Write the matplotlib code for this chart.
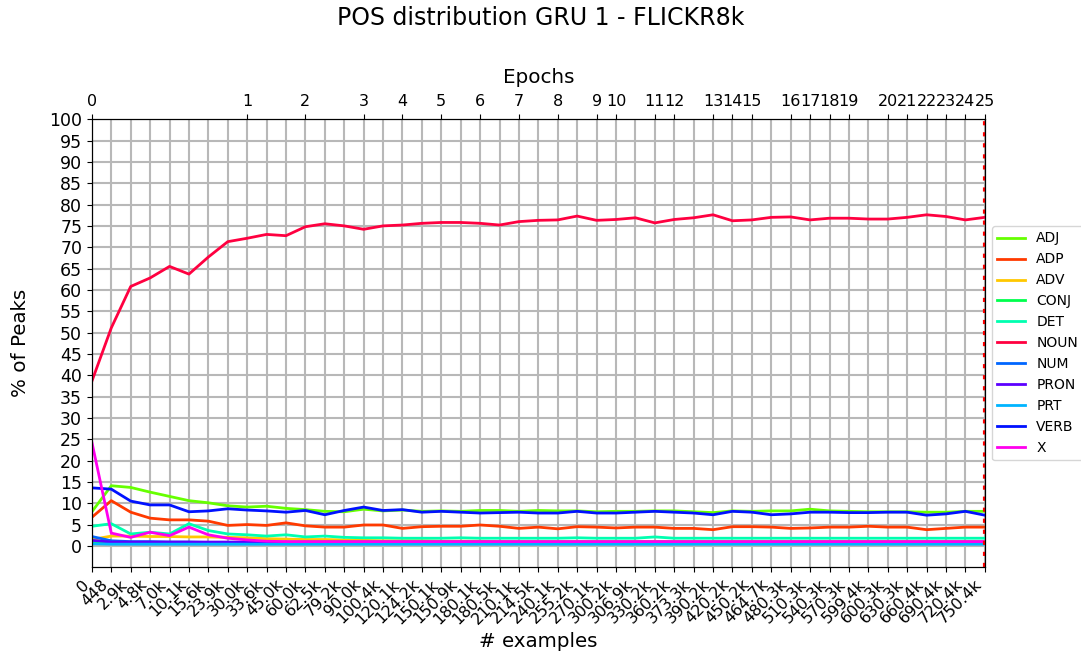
import matplotlib
matplotlib.use("Agg")
import matplotlib.pyplot as plt

examples = ["0", "448", "2.9k", "4.8k", "7.0k", "10.1k", "15.6k", "23.9k", "30.0k", "33.6k",
            "45.0k", "60.0k", "62.5k", "79.2k", "90.0k", "100.4k", "120.1k", "124.2k", "150.1k", "150.9k",
            "180.1k", "180.5k", "210.1k", "214.5k", "240.1k", "255.2k", "270.1k", "300.2k", "306.9k", "330.2k",
            "360.2k", "373.3k", "390.2k", "420.2k", "450.2k", "464.7k", "480.3k", "510.3k", "540.3k", "570.3k",
            "599.4k", "600.3k", "630.3k", "660.4k", "690.4k", "720.4k", "750.4k"]

# index in examples where each epoch ends
epoch_ticks = [0, 8, 11, 14, 16, 18, 20, 22, 24, 26, 27, 29, 30, 32, 33, 34, 36, 37, 38, 39,
               41, 42, 43, 44, 45, 46]
epoch_labels = [str(e) for e in range(26)]

ADJ = [8.0, 14.1, 13.7, 12.6, 11.6, 10.6, 10.1, 9.4, 9.1, 9.3,
       8.8, 8.5, 8.1, 8.0, 8.6, 8.2, 8.4, 8.1, 8.2, 8.1,
       8.3, 8.3, 8.1, 8.3, 8.2, 8.2, 8.0, 8.1, 8.1, 8.2,
       8.2, 8.0, 7.8, 8.2, 8.1, 8.2, 8.2, 8.6, 8.2, 8.1,
       8.0, 8.0, 8.0, 7.9, 7.9, 8.1, 8.1]
ADP = [6.7, 10.6, 7.9, 6.5, 6.1, 6.1, 5.8, 4.8, 5.0, 4.8,
       5.4, 4.7, 4.4, 4.4, 4.9, 4.9, 4.1, 4.5, 4.6, 4.6,
       4.9, 4.6, 4.1, 4.4, 4.0, 4.5, 4.4, 4.2, 4.4, 4.4,
       4.1, 4.1, 3.8, 4.5, 4.5, 4.4, 4.1, 4.2, 4.4, 4.4,
       4.6, 4.4, 4.4, 3.8, 4.1, 4.4, 4.4]
ADV = [1.5, 2.3, 2.3, 2.2, 2.2, 2.1, 2.1, 2.0, 1.9, 1.7,
       1.6, 1.5, 1.5, 1.4, 1.3, 1.2, 1.2, 1.2, 1.1, 1.1,
       1.1, 1.0, 1.0, 1.0, 1.0, 1.0, 1.0, 1.0, 1.0, 1.0,
       1.0, 1.0, 1.0, 1.0, 1.0, 1.0, 1.0, 1.0, 1.0, 1.0,
       1.0, 1.0, 1.0, 1.0, 1.0, 1.0, 1.0]
CONJ = [0.7, 0.6, 0.6, 0.6, 0.6, 0.6, 0.6, 0.6, 0.6, 0.6,
        0.6, 0.6, 0.6, 0.6, 0.6, 0.6, 0.6, 0.6, 0.6, 0.6,
        0.6, 0.6, 0.6, 0.6, 0.6, 0.6, 0.6, 0.6, 0.6, 0.6,
        0.6, 0.6, 0.6, 0.6, 0.6, 0.6, 0.6, 0.6, 0.6, 0.6,
        0.6, 0.6, 0.6, 0.6, 0.6, 0.6, 0.6]
DET = [4.6, 5.2, 2.8, 3.2, 2.8, 5.2, 3.6, 2.8, 2.6, 2.3,
       2.6, 2.1, 2.3, 2.0, 1.9, 1.9, 1.8, 1.8, 1.8, 1.9,
       1.8, 1.8, 1.8, 1.8, 1.8, 1.9, 1.8, 1.8, 1.8, 2.1,
       1.8, 1.8, 1.8, 1.8, 1.8, 1.8, 1.8, 1.8, 1.8, 1.8,
       1.8, 1.8, 1.8, 1.8, 1.8, 1.8, 1.8]
NOUN = [38.6, 51.1, 60.8, 62.8, 65.5, 63.7, 67.7, 71.3, 72.1, 73.0,
        72.7, 74.8, 75.5, 75.0, 74.2, 75.0, 75.2, 75.6, 75.8, 75.8,
        75.6, 75.2, 76.0, 76.3, 76.4, 77.3, 76.3, 76.5, 76.9, 75.7,
        76.5, 76.9, 77.6, 76.2, 76.4, 77.0, 77.1, 76.4, 76.8, 76.8,
        76.6, 76.6, 77.0, 77.6, 77.2, 76.4, 77.0]
NUM = [2.2, 1.2, 1.0, 1.0, 0.9, 0.9, 0.8, 0.8, 0.8, 0.7,
       0.7, 0.7, 0.7, 0.7, 0.7, 0.7, 0.7, 0.7, 0.7, 0.7,
       0.7, 0.7, 0.7, 0.7, 0.7, 0.7, 0.7, 0.7, 0.7, 0.7,
       0.7, 0.7, 0.7, 0.7, 0.7, 0.7, 0.7, 0.7, 0.7, 0.7,
       0.7, 0.7, 0.7, 0.7, 0.7, 0.7, 0.7]
PRON = [1.3, 0.9, 0.9, 0.9, 0.9, 0.9, 0.9, 0.9, 0.9, 0.9,
        0.9, 0.9, 0.9, 0.9, 0.9, 0.9, 0.9, 0.9, 0.9, 0.9,
        0.9, 0.9, 0.9, 0.9, 0.9, 0.9, 0.9, 0.9, 0.9, 0.9,
        0.9, 0.9, 0.9, 0.9, 0.9, 0.9, 0.9, 0.9, 0.9, 0.9,
        0.9, 0.9, 0.9, 0.9, 0.9, 0.9, 0.9]
PRT = [0.5, 0.4, 0.4, 0.4, 0.4, 0.4, 0.4, 0.4, 0.4, 0.4,
       0.4, 0.4, 0.4, 0.4, 0.4, 0.4, 0.4, 0.4, 0.4, 0.4,
       0.4, 0.4, 0.4, 0.4, 0.4, 0.4, 0.4, 0.4, 0.4, 0.4,
       0.4, 0.4, 0.4, 0.4, 0.4, 0.4, 0.4, 0.4, 0.4, 0.4,
       0.4, 0.4, 0.4, 0.4, 0.4, 0.4, 0.4]
VERB = [13.6, 13.3, 10.5, 9.6, 9.6, 8.0, 8.2, 8.7, 8.4, 8.2,
        7.9, 8.3, 7.3, 8.3, 9.1, 8.3, 8.5, 7.9, 8.1, 7.9,
        7.7, 7.8, 7.9, 7.7, 7.7, 8.1, 7.7, 7.7, 7.9, 8.1,
        7.9, 7.7, 7.3, 8.1, 7.9, 7.3, 7.5, 7.9, 7.9, 7.8,
        7.8, 7.9, 7.9, 7.2, 7.5, 8.1, 7.2]
X = [24.3, 3.0, 2.0, 3.2, 2.4, 4.4, 2.6, 1.8, 1.4, 1.1,
     1.0, 1.0, 1.0, 1.0, 1.0, 1.0, 1.0, 1.0, 1.0, 1.0,
     1.0, 1.0, 1.0, 1.0, 1.0, 1.0, 1.0, 1.0, 1.0, 1.0,
     1.0, 1.0, 1.0, 1.0, 1.0, 1.0, 1.0, 1.0, 1.0, 1.0,
     1.0, 1.0, 1.0, 1.0, 1.0, 1.0, 1.0]

tags = ["ADJ", "ADP", "ADV", "CONJ", "DET", "NOUN", "NUM", "PRON", "PRT", "VERB", "X"]
series = [ADJ, ADP, ADV, CONJ, DET, NOUN, NUM, PRON, PRT, VERB, X]
colors = ["#66ff00", "#ff3a00", "#ffc800", "#00ff4d", "#00ffb0", "#ff0040",
          "#0066ff", "#5c00ff", "#00b4ff", "#0011ff", "#ff00ee"]

fig = plt.figure(figsize=(10.81, 6.55), dpi=100)
ax = fig.add_axes([0.085, 0.134, 0.826, 0.684])

xs = list(range(len(examples)))
for tag, vals, c in zip(tags, series, colors):
    ax.plot(xs, vals, color=c, linewidth=2, label=tag)

ax.axvline(xs[-1], color="red", linestyle=":", linewidth=3)

ax.set_xlim(0, len(examples) - 1)
ax.set_ylim(-5, 100)
ax.set_xticks(xs)
ax.set_xticklabels(examples, rotation=45, ha="right", fontsize=11.5)
ax.set_yticks(range(0, 101, 5))
ax.tick_params(axis="y", labelsize=12.5)
ax.grid(True, color="#b8b8b8", linewidth=1.5)
ax.set_xlabel("# examples", fontsize=14.3)
ax.set_ylabel("% of Peaks", fontsize=14.3, labelpad=14)

ax2 = ax.twiny()
ax2.set_xlim(ax.get_xlim())
ax2.set_xticks(epoch_ticks)
ax2.set_xticklabels(epoch_labels, fontsize=11.5)
ax2.set_xlabel("Epochs", fontsize=14.3, labelpad=8)

ax.legend(loc="center left", bbox_to_anchor=(1.0, 0.5), fontsize=10)
fig.suptitle("POS distribution GRU 1 - FLICKR8k", fontsize=17, y=0.972, va="center")

fig.savefig("out.png", dpi=100)
